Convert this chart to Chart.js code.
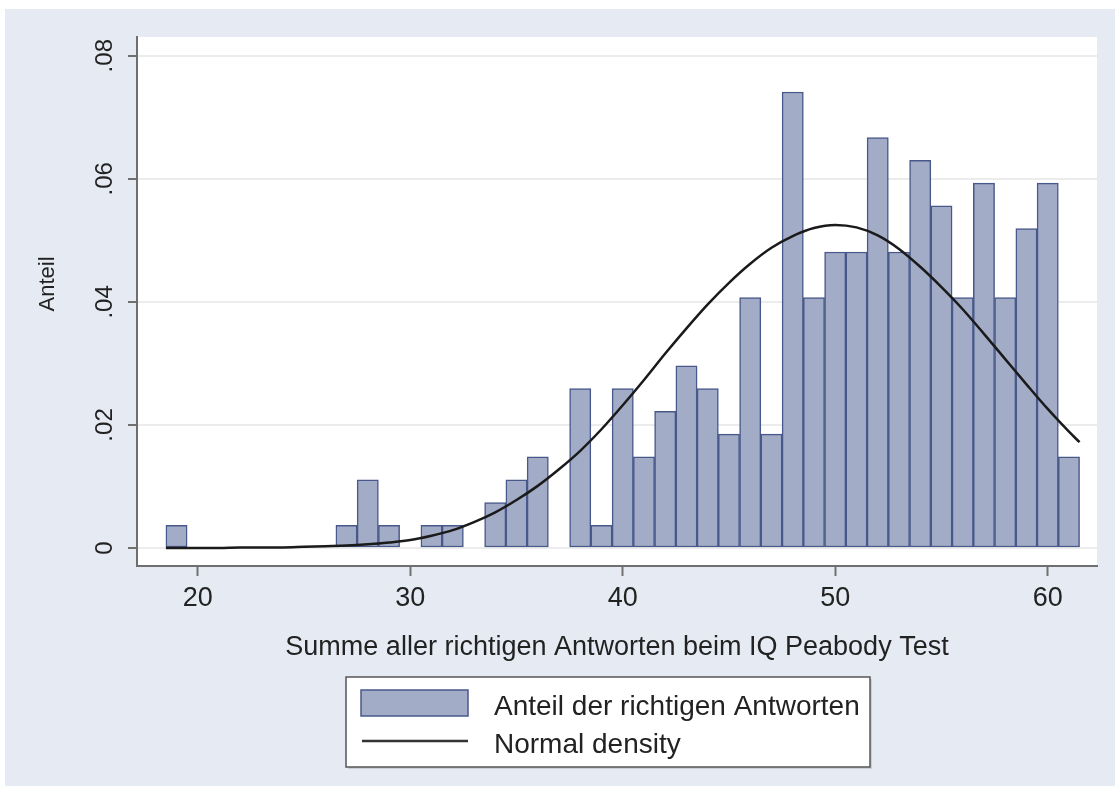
<!DOCTYPE html>
<html>
<head>
<meta charset="utf-8">
<script src="https://cdn.jsdelivr.net/npm/chart.js@4.4.1/dist/chart.umd.min.js"></script>
<style>
  html, body { margin: 0; padding: 0; background: #fff; }
  canvas { display: block; }
</style>
</head>
<body>
<canvas id="histChart" width="1115" height="796"></canvas>
<script>
// histogram bins (score, share of answers)
const binScores = [19, 27, 28, 29, 31, 32, 34, 35, 36, 38, 39, 40, 41, 42, 43, 44, 45, 46, 47, 48,
                   49, 50, 51, 52, 53, 54, 55, 56, 57, 58, 59, 60, 61];
const binShares = [0.0037, 0.0037, 0.0111, 0.0037, 0.0037, 0.0037, 0.0074, 0.0111, 0.0148, 0.0259,
                   0.0037, 0.0259, 0.0148, 0.0222, 0.0296, 0.0259, 0.0185, 0.0407, 0.0185, 0.0741,
                   0.0407, 0.0481, 0.0481, 0.0667, 0.0481, 0.0630, 0.0556, 0.0407, 0.0593, 0.0407,
                   0.0519, 0.0593, 0.0148];

// normal density curve
const curveX = [18.5, 19, 20, 21, 22, 23, 24, 25, 26, 27, 28, 29, 30, 31, 32, 33, 34, 35, 36, 37,
                38, 39, 40, 41, 42, 43, 44, 45, 46, 47, 48, 49, 50, 51, 52, 53, 54, 55, 56, 57,
                58, 59, 60, 61, 61.5];
const curveY = [0.0000, 0.0000, 0.0000, 0.0000, 0.0001, 0.0001, 0.0001, 0.0002, 0.0003, 0.0004,
                0.0006, 0.0009, 0.0013, 0.0020, 0.0029, 0.0042, 0.0058, 0.0078, 0.0101, 0.0128,
                0.0158, 0.0193, 0.0232, 0.0273, 0.0316, 0.0357, 0.0396, 0.0431, 0.0462, 0.0488,
                0.0507, 0.0520, 0.0525, 0.0521, 0.0508, 0.0486, 0.0457, 0.0424, 0.0388, 0.0348,
                0.0307, 0.0266, 0.0226, 0.0189, 0.0172];

const xTicks = [20, 30, 40, 50, 60];
const yTicks = [0, 0.02, 0.04, 0.06, 0.08];
const yTickLabels = ["0", ".02", ".04", ".06", ".08"];

const xTitle = "Summe aller richtigen Antworten beim IQ Peabody Test";
const yTitle = "Anteil";
const legendLabels = ["Anteil der richtigen Antworten", "Normal density"];

const FONT = "'Liberation Sans', Arial, Helvetica, sans-serif";
const barFill = "rgb(163,172,198)";
const barEdge = "rgb(72,88,138)";
const outerBg = "#e6ebf3";

// background panels, y title and legend
const stataFrame = {
    id: "stataFrame",
    beforeDraw(chart) {
        let ctx = chart.ctx;
        let a = chart.chartArea;
        ctx.save();
        ctx.fillStyle = "#fff";
        ctx.fillRect(0, 0, chart.width, chart.height);
        ctx.fillStyle = outerBg;
        ctx.fillRect(5, 9, chart.width - 5, 777);
        ctx.fillStyle = "#fff";
        ctx.fillRect(a.left, a.top, a.right - a.left, a.bottom - a.top);
        ctx.restore();
    },
    afterDraw(chart) {
        let ctx = chart.ctx;
        ctx.save();
        // y axis title
        ctx.translate(48, 284);
        ctx.rotate(-Math.PI / 2);
        ctx.fillStyle = "#222";
        ctx.font = "22px " + FONT;
        ctx.textAlign = "center";
        ctx.textBaseline = "middle";
        ctx.fillText(yTitle, 0, 0);
        ctx.restore();

        // legend box
        ctx.save();
        ctx.fillStyle = "rgba(0,0,0,0.12)";
        ctx.fillRect(348, 679, 524, 90);
        ctx.fillStyle = "#fff";
        ctx.fillRect(346, 677, 524, 90);
        ctx.strokeStyle = "#555";
        ctx.lineWidth = 1.5;
        ctx.strokeRect(346, 677, 524, 90);

        ctx.fillStyle = barFill;
        ctx.fillRect(361, 690, 107, 26);
        ctx.strokeStyle = barEdge;
        ctx.lineWidth = 1.5;
        ctx.strokeRect(361, 690, 107, 26);

        ctx.strokeStyle = "#333";
        ctx.lineWidth = 2.5;
        ctx.beginPath();
        ctx.moveTo(362, 741);
        ctx.lineTo(468, 741);
        ctx.stroke();

        ctx.fillStyle = "#222";
        ctx.font = "28px " + FONT;
        ctx.textBaseline = "alphabetic";
        ctx.fillText(legendLabels[0], 494, 715);
        ctx.fillText(legendLabels[1], 494, 753);
        ctx.restore();
    }
};

let ctx = document.getElementById("histChart").getContext("2d");

new Chart(ctx, {
    type: "bar",
    data: {
        datasets: [
            {
                type: "line",
                label: legendLabels[1],
                data: curveX.map((x, i) => ({ x: x, y: curveY[i] })),
                borderColor: "#1a1a1a",
                borderWidth: 2.5,
                pointRadius: 0,
                cubicInterpolationMode: "monotone",
                fill: false,
                order: 0
            },
            {
                type: "bar",
                label: legendLabels[0],
                data: binScores.map((x, i) => ({ x: x, y: binShares[i] })),
                backgroundColor: barFill,
                borderColor: barEdge,
                borderWidth: 1.5,
                borderSkipped: false,
                barPercentage: 1,
                categoryPercentage: 1,
                order: 1
            }
        ]
    },
    options: {
        responsive: false,
        animation: false,
        layout: { padding: { top: 37, right: 18, bottom: 132, left: 0 } },
        scales: {
            x: {
                type: "linear",
                min: 17.14,
                max: 62.32,
                offset: false,
                afterBuildTicks: (scale) => { scale.ticks = xTicks.map(v => ({ value: v })); },
                afterFit: (scale) => { scale.height = 98; },
                grid: { offset: false, drawOnChartArea: false, tickLength: 10, tickColor: "#707070", tickWidth: 2 },
                border: { color: "#6e6e6e", width: 2 },
                ticks: {
                    color: "#222",
                    font: { family: FONT, size: 27 },
                    padding: 6,
                    maxRotation: 0,
                    includeBounds: false
                },
                title: {
                    display: true,
                    text: xTitle,
                    color: "#222",
                    font: { family: FONT, size: 27 },
                    padding: { top: 0, bottom: 0 }
                }
            },
            y: {
                type: "linear",
                min: -0.00292,
                max: 0.08304,
                afterBuildTicks: (scale) => { scale.ticks = yTicks.map(v => ({ value: v })); },
                afterFit: (scale) => { scale.width = 137; },
                grid: { color: "#ececec", lineWidth: 2, tickLength: 9, tickColor: "#707070", tickWidth: 2 },
                border: { color: "#6e6e6e", width: 2 },
                ticks: {
                    color: "#222",
                    font: { family: FONT, size: 24 },
                    minRotation: 90,
                    maxRotation: 90,
                    crossAlign: "center",
                    padding: 6,
                    includeBounds: false,
                    callback: (value, index) => yTickLabels[index]
                }
            }
        },
        plugins: {
            legend: { display: false },
            tooltip: { enabled: false }
        }
    },
    plugins: [stataFrame]
});
</script>
</body>
</html>
